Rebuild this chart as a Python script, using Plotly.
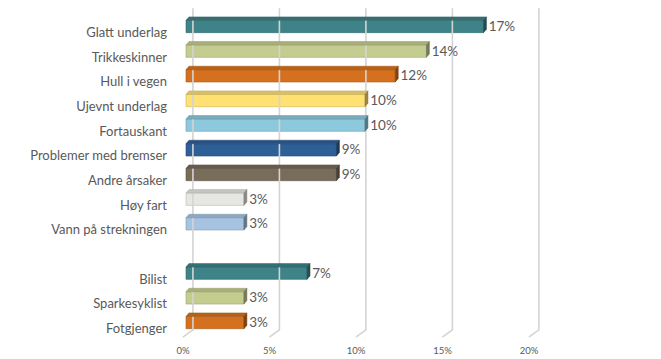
import plotly.graph_objects as go

# ---- data ----
categories = ["Glatt underlag", "Trikkeskinner", "Hull i vegen", "Ujevnt underlag",
              "Fortauskant", "Problemer med bremser", "Andre årsaker", "Høy fart",
              "Vann på strekningen", "Bilist", "Sparkesyklist", "Fotgjenger"]
positions = [0, 1, 2, 3, 4, 5, 6, 7, 8, 10, 11, 12]   # row 9 left empty (gap)
values = [17.2, 13.9, 12.1, 10.35, 10.35, 8.7, 8.7, 3.35, 3.35, 7.0, 3.35, 3.35]
value_labels = ["17%", "14%", "12%", "10%", "10%", "9%", "9%", "3%", "3%", "7%", "3%", "3%"]
colors = ["#3E8387", "#C4CD8F", "#D5711E", "#FFE073", "#8DC9DD", "#2F5F97",
          "#786C5B", "#E6E6E2", "#A6C4E2", "#3E8387", "#C4CD8F", "#D5711E"]
x_ticks = [0, 5, 10, 15, 20]
x_tick_labels = ["0%", "5%", "10%", "15%", "20%"]

TEXT = "#595959"
FONT = "Lato"

# ---- geometry of the pseudo-3D look (axis units) ----
front_h = 0.5        # front-face height
dx, dy = 0.17, 0.14  # depth offset
grid_dx = 0.4        # back-wall offset of gridlines
grid_top, grid_floor, grid_end = -0.74, 12.30, 12.59
floor_dx = 0.58


def shade(hexc, f):
    h = hexc.lstrip("#")
    r, g, b = (int(h[i:i + 2], 16) for i in (0, 2, 4))
    return "#%02x%02x%02x" % (int(r * f), int(g * f), int(b * f))


fig = go.Figure()

# gridlines on back wall + floor
for t in x_ticks:
    fig.add_trace(go.Scatter(
        x=[t + grid_dx, t + grid_dx, t + grid_dx - floor_dx],
        y=[grid_top, grid_floor, grid_end],
        mode="lines", line=dict(color="#D4D4D4", width=1.6),
        hoverinfo="skip", showlegend=False))

# front faces
fig.add_trace(go.Bar(
    x=values, y=positions, orientation="h", width=front_h,
    marker=dict(color=colors, line=dict(color=[shade(c, 0.8) for c in colors], width=0.6)),
    showlegend=False, hoverinfo="skip"))

# top and side faces
for v, p, c in zip(values, positions, colors):
    top = p - front_h / 2
    bot = p + front_h / 2
    fig.add_trace(go.Scatter(
        x=[0, v, v + dx, dx, 0], y=[top, top, top - dy, top - dy, top],
        fill="toself", fillcolor=shade(c, 0.86), mode="lines",
        line=dict(color=shade(c, 0.75), width=0.5),
        hoverinfo="skip", showlegend=False))
    fig.add_trace(go.Scatter(
        x=[v, v, v + dx, v + dx, v], y=[bot, top, top - dy, bot - dy, bot],
        fill="toself", fillcolor=shade(c, 0.6), mode="lines",
        line=dict(color=shade(c, 0.55), width=0.5),
        hoverinfo="skip", showlegend=False))

# value labels
fig.add_trace(go.Scatter(
    x=[v + 0.3 for v in values], y=[p + 0.05 for p in positions],
    mode="text", text=value_labels, textposition="middle right",
    textfont=dict(family=FONT, size=13.5, color=TEXT),
    hoverinfo="skip", showlegend=False, cliponaxis=False))

fig.update_layout(
    width=653, height=351,
    margin=dict(l=168, r=41, t=0, b=20),
    paper_bgcolor="white", plot_bgcolor="white",
    font=dict(family=FONT, color=TEXT),
    xaxis=dict(range=[-0.578, 25.09], tickvals=x_ticks, ticktext=x_tick_labels,
               showgrid=False, zeroline=False, showline=False, ticks="",
               tickfont=dict(size=9.5, color=TEXT), ticklabelshift=-3,
               ticklabelstandoff=4, fixedrange=True, automargin=False),
    yaxis=dict(range=[12.667, -0.75], tickvals=positions, ticktext=categories,
               showgrid=False, zeroline=False, showline=False, ticks="",
               tickfont=dict(size=13, color=TEXT), ticklabelshift=-6,
               ticklabelstandoff=8, fixedrange=True, automargin=False),
)

fig.write_html("out.html")
